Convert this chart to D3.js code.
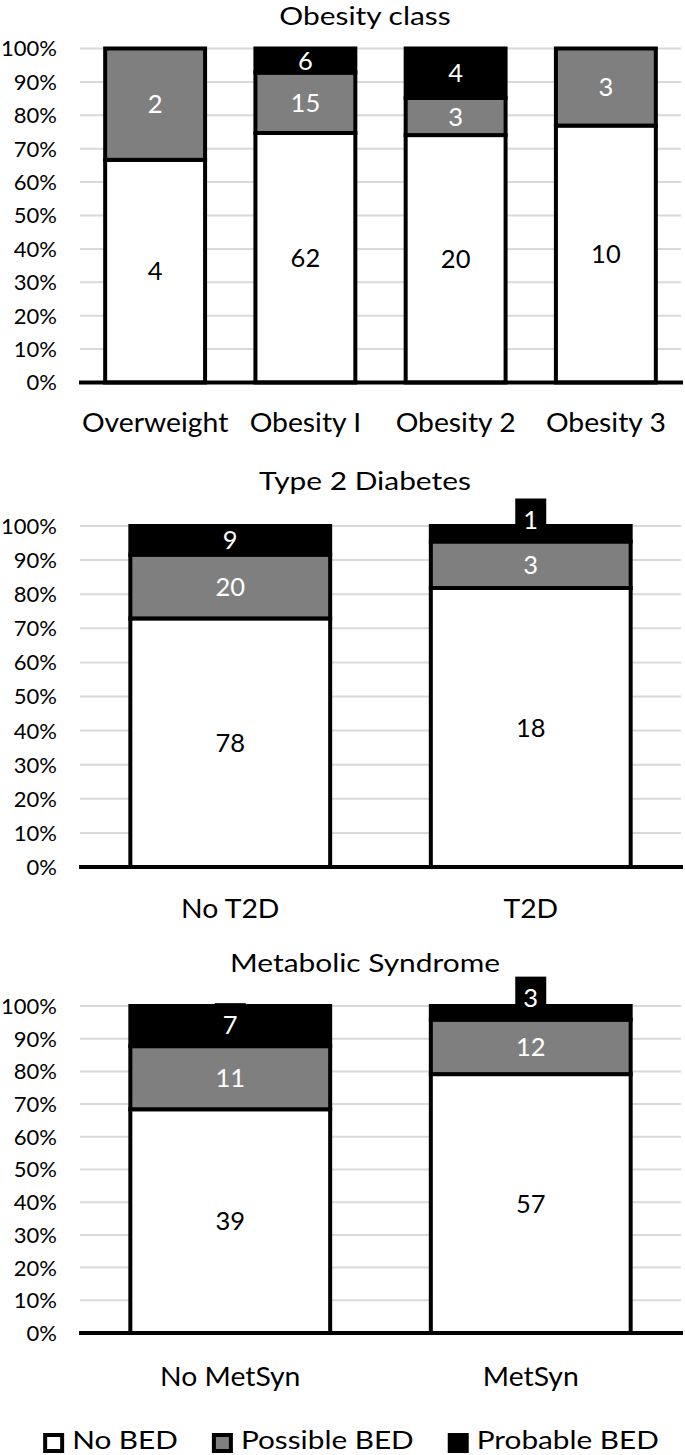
<!DOCTYPE html>
<html><head><meta charset="utf-8">
<script src="https://cdn.jsdelivr.net/npm/d3@7"></script>
<style>body{margin:0;background:#fff} svg{display:block}</style>
</head><body>
<svg id="chart" width="685" height="1455"></svg>
<script>
// ---------------- data ----------------
const seriesNames = ["No BED", "Possible BED", "Probable BED"];
const panelTitles = ["Obesity class", "Type 2 Diabetes", "Metabolic Syndrome"];

const obesityCategories = ["Overweight", "Obesity I", "Obesity 2", "Obesity 3"];
const obesityNoBED       = [4, 62, 20, 10];
const obesityPossibleBED = [2, 15, 3, 3];
const obesityProbableBED = [0, 6, 4, 0];
const obesityBoxedLabel  = [false, false, false, false];

const t2dCategories  = ["No T2D", "T2D"];
const t2dNoBED       = [78, 18];
const t2dPossibleBED = [20, 3];
const t2dProbableBED = [9, 1];
const t2dBoxedLabel  = [false, true];

const metCategories  = ["No MetSyn", "MetSyn"];
const metNoBED       = [39, 57];
const metPossibleBED = [11, 12];
const metProbableBED = [7, 3];
const metBoxedLabel  = [true, true];

const tickValues = [0, 0.1, 0.2, 0.3, 0.4, 0.5, 0.6, 0.7, 0.8, 0.9, 1.0];
const tickLabels = ["0%", "10%", "20%", "30%", "40%", "50%", "60%", "70%", "80%", "90%", "100%"];

// ---------------- style / layout ----------------
const seriesFill  = ["#ffffff", "#7f7f7f", "#000000"];
const labelFill   = ["#000000", "#ffffff", "#ffffff"];
const FONT = "Lato, 'Open Sans', sans-serif";
const txt = {
  title:  {size: 24.5, sx: 1.22},
  cat:    {size: 27.5, sx: 1.03},
  tick:   {size: 22,   sx: 1.0},
  label:  {size: 25,   sx: 1.02},
  legend: {size: 25,   sx: 1.19}
};
const CAP = 0.72; // cap-height ratio of the font

const panels = [
  {cats: obesityCategories, vals: [obesityNoBED, obesityPossibleBED, obesityProbableBED], boxed: obesityBoxedLabel,
   top: 48.5, bottom: 382.5, titleY: 24.5, catY: 432},
  {cats: t2dCategories, vals: [t2dNoBED, t2dPossibleBED, t2dProbableBED], boxed: t2dBoxedLabel,
   top: 526, bottom: 867, titleY: 490, catY: 918},
  {cats: metCategories, vals: [metNoBED, metPossibleBED, metProbableBED], boxed: metBoxedLabel,
   top: 1006, bottom: 1333, titleY: 972, catY: 1386}
];
const X0 = 80, X1 = 681, TITLE_CX = 365, TICK_X = 57;

const svg = d3.select("#chart");

function addText(g, x, y, s, kind, anchor, fill) {
  const t = txt[kind];
  return g.append("text")
    .attr("transform", `translate(${x},${y}) scale(${t.sx},1)`)
    .attr("text-anchor", anchor || "middle")
    .attr("font-family", FONT)
    .attr("font-size", t.size)
    .attr("fill", fill || "#000")
    .text(s);
}

panels.forEach((p, pi) => {
  const g = svg.append("g");
  const rows = p.cats.map((c, i) => {
    const r = {cat: c};
    seriesNames.forEach((s, si) => r[s] = p.vals[si][i]);
    return r;
  });
  const stacked = d3.stack().keys(seriesNames).offset(d3.stackOffsetExpand)(rows);

  const x = d3.scaleBand().domain(p.cats).range([X0, X1]).paddingInner(0.335).paddingOuter(0.1675);
  const y = d3.scaleLinear().domain([0, 1]).range([p.bottom, p.top]);

  // gridlines
  g.selectAll(".grid").data(tickValues.filter(v => v > 0)).enter().append("line")
    .attr("x1", X0).attr("x2", X1)
    .attr("y1", d => y(d)).attr("y2", d => y(d))
    .attr("stroke", "#d9d9d9").attr("stroke-width", 2);

  // tick labels
  tickValues.forEach((v, i) => {
    addText(g, TICK_X, y(v) + txt.tick.size * CAP / 2, tickLabels[i], "tick", "end");
  });

  // bars
  stacked.forEach((layer, si) => {
    g.selectAll(null).data(layer.filter(d => d[1] - d[0] > 0)).enter().append("rect")
      .attr("x", d => x(d.data.cat))
      .attr("width", x.bandwidth())
      .attr("y", d => y(d[1]))
      .attr("height", d => y(d[0]) - y(d[1]))
      .attr("fill", seriesFill[si])
      .attr("stroke", "#000").attr("stroke-width", 4);
  });

  // axis baseline
  g.append("line").attr("x1", X0 - 1).attr("x2", X1 + 2)
    .attr("y1", y(0)).attr("y2", y(0))
    .attr("stroke", "#000").attr("stroke-width", 4);

  // data labels
  stacked.forEach((layer, si) => {
    layer.forEach((d, i) => {
      const v = d.data[seriesNames[si]];
      if (!v) return;
      const cx = x(d.data.cat) + x.bandwidth() / 2;
      const yTop = y(d[1]), yBot = y(d[0]);
      let cy = (yTop + yBot) / 2;
      if (si === 2 && p.boxed[i]) {
        const bh = 43, bw = 31;
        g.append("rect").attr("x", cx - bw / 2).attr("y", yBot - bh)
          .attr("width", bw).attr("height", bh).attr("fill", "#000");
        cy = yBot - bh / 2;
      }
      addText(g, cx, cy + txt.label.size * CAP / 2, String(v), "label", "middle", labelFill[si]);
    });
  });

  // category labels
  p.cats.forEach(c => addText(g, x(c) + x.bandwidth() / 2, p.catY, c, "cat", "middle"));

  // title
  addText(g, TITLE_CX, p.titleY, panelTitles[pi], "title", "middle");
});

// legend
const leg = svg.append("g");
let lx = 0;
const BOX = 21, GAP_TXT = 8, GAP_ITEM = 34, LEG_BOX_Y = 1443, LEG_TXT_Y = 1448.5;
seriesNames.forEach((s, si) => {
  leg.append("rect").attr("x", lx + 2).attr("y", LEG_BOX_Y - 10 + 2)
    .attr("width", BOX - 4).attr("height", 16)
    .attr("fill", seriesFill[si]).attr("stroke", "#000").attr("stroke-width", 4);
  const t = addText(leg, lx + BOX + GAP_TXT, LEG_TXT_Y, s, "legend", "start");
  const w = t.node().getComputedTextLength() * txt.legend.sx;
  lx += BOX + GAP_TXT + w + GAP_ITEM;
});
const legW = lx - GAP_ITEM;
leg.attr("transform", `translate(${351 - legW / 2},0)`);
</script>
</body></html>
